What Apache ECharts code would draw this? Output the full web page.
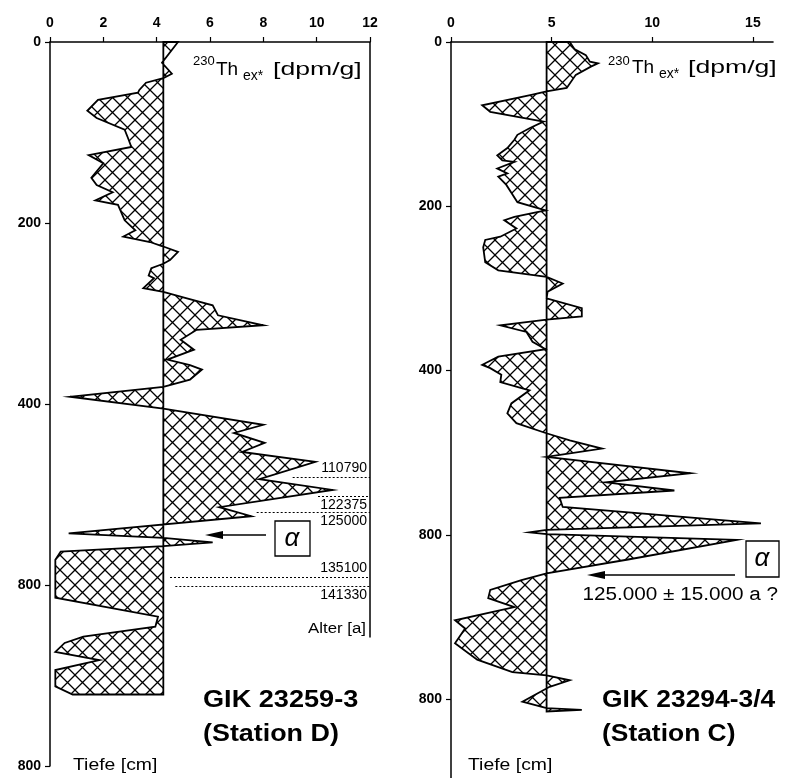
<!DOCTYPE html>
<html>
<head>
<meta charset="utf-8">
<script src="https://cdn.jsdelivr.net/npm/echarts@6/dist/echarts.min.js"></script>
<style>
  html, body { margin: 0; padding: 0; background: #fff; }
  #chart { width: 787px; height: 778px; }
</style>
</head>
<body>
<div id="chart"></div>
<script>
// GIK 23259-3 (Station D): 230Th_ex* [dpm/g] against depth [cm]
const thD = [4.8, 4.2, 4.57, 4.25, 3.6, 3.35, 3.3, 1.8, 1.4, 1.75, 2.8, 2.95, 3.05, 1.45, 2.0, 1.55, 1.75, 2.35, 1.7, 2.55,
  2.8, 3.2, 2.75, 3.75, 4.25, 4.8, 4.5, 4.25, 3.8, 3.7, 3.9, 3.5, 4.25, 5.1, 6.1, 6.3, 8.0, 5.5, 4.9, 5.4,
  4.4, 5.25, 5.7, 5.25, 4.25, 0.75, 4.25, 8.0, 6.9, 8.05, 7.2, 9.95, 7.85, 10.6, 6.35, 7.55, 0.7, 4.25, 6.1, 4.25,
  0.4, 0.2, 0.2, 4.05, 3.95, 1.25, 0.55, 0.2, 1.85, 0.2, 0.2, 0.85, 4.25];
const depthD = [0, 23, 35, 40, 45, 53, 56, 64, 76, 84, 97, 108, 116, 125, 134, 150, 158, 166, 175, 180,
  197, 208, 215, 221, 226, 232, 241, 245, 250, 258, 261, 272, 276, 283, 291, 302, 313, 318, 329, 340,
  351, 357, 362, 373, 381, 392, 405, 423, 432, 443, 453, 464, 483, 495, 514, 524, 543, 548, 553, 557,
  563, 572, 614, 635, 646, 657, 664, 674, 683, 694, 712, 721, 721];
const baseD = 4.25;

// GIK 23294-3/4 (Station C)
const thC = [5.9, 6.15, 6.7, 6.9, 7.3, 6.95, 6.2, 5.75, 4.75, 4.05, 1.55, 1.95, 4.6, 3.9, 3.3, 3.15, 2.8, 2.3, 2.55, 3.15,
  2.3, 2.8, 2.35, 2.75, 3.3, 4.7, 3.15, 2.65, 3.25, 2.45, 1.7, 1.6, 1.7, 2.35, 4.75, 5.55, 4.8, 4.75, 6.5, 6.5,
  4.75, 2.45, 3.75, 4.05, 4.7, 2.35, 1.55, 1.95, 2.5, 2.45, 3.9, 3.0, 2.8, 3.25, 4.7, 5.9, 7.5, 4.75, 11.9, 7.7,
  11.1, 5.4, 5.55, 15.4, 4.75, 3.9, 4.75, 14.2, 8.8, 4.75, 3.5, 1.95, 1.85, 3.15, 0.2, 0.7, 0.2, 1.3, 3.05, 4.75,
  5.9, 4.9, 3.55, 4.75, 6.5, 4.75];
const depthC = [0, 9, 16, 24, 26, 30, 40, 56, 60, 64, 77, 85, 97, 105, 113, 119, 129, 138, 144, 146,
  154, 160, 164, 174, 195, 205, 213, 217, 227, 237, 241, 250, 268, 278, 286, 294, 304, 312, 324, 334,
  338, 345, 353, 365, 374, 383, 393, 397, 405, 414, 424, 440, 452, 464, 476, 485, 495, 505, 525, 536,
  546, 555, 566, 586, 594, 597, 599, 606, 630, 647, 655, 667, 677, 688, 704, 714, 732, 752, 767, 771,
  777, 785, 803, 811, 813, 815];
const baseC = 4.75;

// age marks (core D)
const ageLabels = ['110790', '122375', '125000', '135100', '141330'];
const ageDepths = [481, 502, 520, 591, 601];
const ageFrom = [9.1, 10.05, 7.75, 4.5, 4.7];
const ageAbove = [true, false, false, true, false];

const thTicksD = [0, 2, 4, 6, 8, 10, 12];
const thTicksC = [0, 5, 10, 15];
const depthTicks = [0, 200, 400, 600, 800];
const depthTickLabels = ['0', '200', '400', '800', '800'];

const FONT = '"Liberation Sans", Arial, sans-serif';

function hatchCanvas(size) {
  const c = document.createElement('canvas');
  c.width = size;
  c.height = size;
  const g = c.getContext('2d');
  g.strokeStyle = '#000';
  g.lineWidth = 1.3;
  g.beginPath();
  g.moveTo(0, 0); g.lineTo(size, size);
  g.moveTo(size, 0); g.lineTo(0, size);
  g.stroke();
  return c;
}
const hatch = hatchCanvas(15);

function profile(th, depth, base, idx) {
  return {
    type: 'custom',
    xAxisIndex: idx,
    yAxisIndex: idx,
    silent: true,
    data: [[base, 0]],
    renderItem: function (params, api) {
      const pts = th.map((v, i) => api.coord([v, depth[i]]));
      pts.push(api.coord([base, depth[depth.length - 1]]));
      pts.push(api.coord([base, depth[0]]));
      return {
        type: 'polygon',
        shape: { points: pts },
        style: {
          fill: { image: hatch, repeat: 'repeat' },
          stroke: '#000',
          lineWidth: 1.8,
          lineJoin: 'miter'
        }
      };
    }
  };
}

function xAxis(grid, max, ticks) {
  return {
    gridIndex: grid,
    type: 'value',
    position: 'top',
    min: 0,
    max: max,
    axisLine: { show: true, onZero: false, lineStyle: { color: '#000', width: 1.6 } },
    axisTick: { show: true, length: 5, customValues: ticks, lineStyle: { color: '#000', width: 1.2 } },
    axisLabel: { customValues: ticks, margin: 12, color: '#000', fontFamily: FONT, fontWeight: 'bold', fontSize: 14 },
    splitLine: { show: false }
  };
}

function yAxis(grid, max) {
  return {
    gridIndex: grid,
    type: 'value',
    inverse: true,
    min: 0,
    max: max,
    axisLine: { show: true, onZero: false, lineStyle: { color: '#000', width: 1.5 } },
    axisTick: { show: true, length: 5, customValues: depthTicks, lineStyle: { color: '#000', width: 1.2 } },
    axisLabel: {
      customValues: depthTicks, margin: 9, color: '#000', fontFamily: FONT, fontWeight: 'bold', fontSize: 14,
      formatter: v => depthTickLabels[depthTicks.indexOf(v)]
    },
    splitLine: { show: false }
  };
}

const ageLines = ageLabels.map((lab, i) => [
  {
    coord: [ageFrom[i], ageDepths[i]],
    label: {
      show: true,
      formatter: lab,
      position: ageAbove[i] ? 'insideEndTop' : 'insideEndBottom',
      distance: [3, 2],
      color: '#000',
      fontFamily: FONT,
      fontSize: 14
    }
  },
  { coord: [12, ageDepths[i]] }
]);
ageLines.push([
  { coord: [12, 0], lineStyle: { type: 'solid', width: 1.5 }, label: { show: false } },
  { coord: [12, 658] }
]);

function txt(x, y, text, size, opts) {
  opts = opts || {};
  return {
    type: 'text',
    x: x,
    y: y,
    scaleX: opts.sx || 1,
    style: {
      text: text,
      fill: '#000',
      font: (opts.style || '') + ' ' + (opts.weight || 'normal') + ' ' + size + 'px ' + FONT,
      align: opts.align || 'left',
      verticalAlign: 'middle'
    }
  };
}

function arrow(x1, x2, y) {
  return [
    { type: 'line', shape: { x1: x1, y1: y, x2: x2 + 14, y2: y }, style: { stroke: '#000', lineWidth: 1.5 } },
    { type: 'polygon', shape: { points: [[x2, y], [x2 + 18, y - 4], [x2 + 18, y + 4]] }, style: { fill: '#000' } }
  ];
}

const chart = echarts.init(document.getElementById('chart'));
chart.setOption({
  animation: false,
  backgroundColor: '#fff',
  grid: [
    { left: 50, top: 42, width: 320, height: 724 },
    { left: 451, top: 42, width: 322, height: 736 }
  ],
  xAxis: [xAxis(0, 12, thTicksD), xAxis(1, 16, thTicksC)],
  yAxis: [yAxis(0, 800), yAxis(1, 896)],
  series: [
    profile(thD, depthD, baseD, 0),
    profile(thC, depthC, baseC, 1),
    {
      type: 'line',
      xAxisIndex: 0,
      yAxisIndex: 0,
      data: [],
      silent: true,
      markLine: {
        silent: true,
        symbol: 'none',
        animation: false,
        lineStyle: { color: '#000', type: [2, 2], width: 1 },
        data: ageLines
      }
    }
  ],
  graphic: [
    // 230Th_ex* labels
    txt(193, 61, '230', 13),
    txt(216, 70, 'Th', 19),
    txt(243, 76, 'ex*', 14),
    txt(273, 70, '[dpm/g]', 19, { sx: 1.4 }),
    txt(608, 61, '230', 13),
    txt(632, 68, 'Th', 19),
    txt(659, 74, 'ex*', 14),
    txt(688, 68, '[dpm/g]', 19, { sx: 1.4 }),
    // age axis caption
    txt(366, 629, 'Alter [a]', 14, { align: 'right', sx: 1.2 }),
    // core titles
    txt(203, 700, 'GIK 23259-3', 24, { weight: 'bold', sx: 1.13 }),
    txt(203, 734, '(Station D)', 24, { weight: 'bold', sx: 1.12 }),
    txt(602, 700, 'GIK 23294-3/4', 24, { weight: 'bold', sx: 1.1 }),
    txt(602, 734, '(Station C)', 24, { weight: 'bold', sx: 1.1 }),
    // depth captions
    txt(73, 765, 'Tiefe [cm]', 17, { sx: 1.14 }),
    txt(468, 765, 'Tiefe [cm]', 17, { sx: 1.14 }),
    // alpha markers
    { type: 'rect', shape: { x: 275, y: 521, width: 35, height: 35 }, style: { fill: '#fff', stroke: '#000', lineWidth: 1.3 } },
    txt(292, 539, 'α', 26, { style: 'italic', align: 'center' }),
    ...arrow(266, 205, 535),
    { type: 'rect', shape: { x: 746, y: 541, width: 33, height: 36 }, style: { fill: '#fff', stroke: '#000', lineWidth: 1.3 } },
    txt(762, 559, 'α', 26, { style: 'italic', align: 'center' }),
    ...arrow(735, 587, 575),
    txt(778, 595, '125.000 ± 15.000 a ?', 18, { align: 'right', sx: 1.15 })
  ]
});
</script>
</body>
</html>
